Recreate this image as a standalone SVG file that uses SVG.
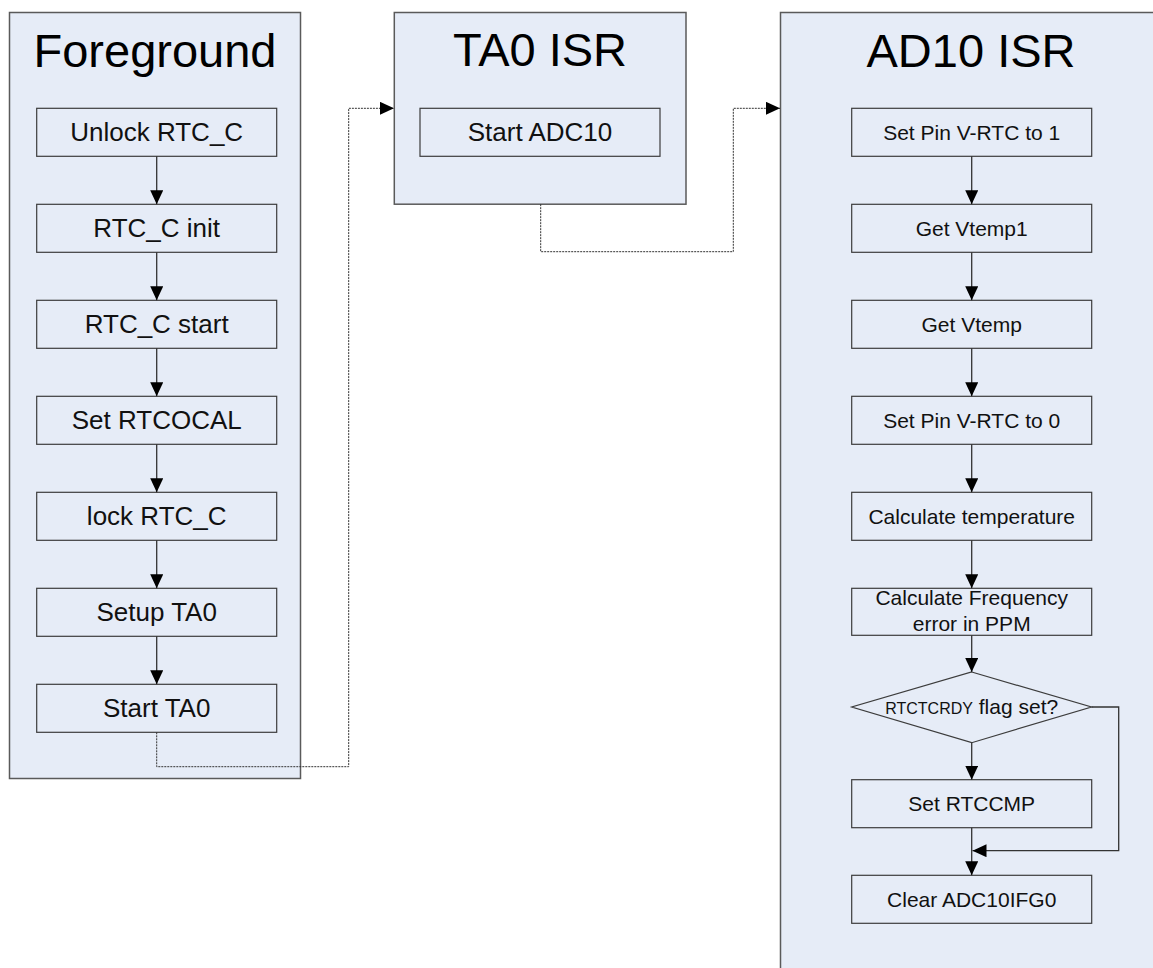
<svg xmlns="http://www.w3.org/2000/svg" width="1153" height="968" viewBox="0 0 1153 968">
<defs>
<style>
.panel{fill:#E6ECF7;stroke:#5a5a5a;stroke-width:1.5}
.box{fill:#E6ECF7;stroke:#3c3c3c;stroke-width:1.2}
.title{font-family:"Liberation Sans",Arial,sans-serif;font-size:47px;fill:#000;text-anchor:middle}
.t26{font-family:"Liberation Sans",Arial,sans-serif;font-size:26px;fill:#111;text-anchor:middle}
.t21{font-family:"Liberation Sans",Arial,sans-serif;font-size:21px;fill:#111;text-anchor:middle}
.flow{fill:none;stroke:#333;stroke-width:1.3;marker-end:url(#ah)}
.dot{fill:none;stroke:#333;stroke-width:1;stroke-dasharray:2 1;marker-end:url(#ah)}
</style>
<marker id="ah" markerUnits="userSpaceOnUse" markerWidth="15" markerHeight="14" refX="14" refY="6.5" orient="auto">
<path d="M0,0 L14,6.5 L0,13 z" fill="#000"/>
</marker>
</defs>
<rect width="1153" height="968" fill="#fff"/>

<g id="foreground">
<rect class="panel" x="9.5" y="12.5" width="291" height="766"/>
<text class="title" x="155" y="67">Foreground</text>
</g>
<g id="unlock"><rect class="box" x="36.7" y="108.3" width="240" height="48"/><text class="t26" x="156.7" y="141">Unlock RTC_C</text></g>
<g id="init"><rect class="box" x="36.7" y="204.3" width="240" height="48"/><text class="t26" x="156.7" y="237">RTC_C init</text></g>
<g id="start"><rect class="box" x="36.7" y="300.3" width="240" height="48"/><text class="t26" x="156.7" y="333">RTC_C start</text></g>
<g id="setcal"><rect class="box" x="36.7" y="396.3" width="240" height="48"/><text class="t26" x="156.7" y="429">Set RTCOCAL</text></g>
<g id="lock"><rect class="box" x="36.7" y="492.3" width="240" height="48"/><text class="t26" x="156.7" y="525">lock RTC_C</text></g>
<g id="setupta0"><rect class="box" x="36.7" y="588.3" width="240" height="48"/><text class="t26" x="156.7" y="621">Setup TA0</text></g>
<g id="startta0"><rect class="box" x="36.7" y="684.3" width="240" height="48"/><text class="t26" x="156.7" y="717">Start TA0</text></g>

<g id="ta0isr">
<rect class="panel" x="394.3" y="12.5" width="291.7" height="191.7"/>
<text class="title" x="540" y="66">TA0 ISR</text>
</g>
<g id="startadc"><rect class="box" x="420" y="108.3" width="240" height="48"/><text class="t26" x="540" y="141">Start ADC10</text></g>

<g id="ad10isr">
<rect class="panel" x="780.5" y="12.5" width="400" height="980"/>
<text class="title" x="971" y="67">AD10 ISR</text>
</g>
<g id="pin1"><rect class="box" x="851.7" y="108.3" width="240" height="48"/><text class="t21" x="971.7" y="139.5">Set Pin V-RTC to 1</text></g>
<g id="vtemp1"><rect class="box" x="851.7" y="204.3" width="240" height="48"/><text class="t21" x="971.7" y="235.5">Get Vtemp1</text></g>
<g id="vtemp"><rect class="box" x="851.7" y="300.3" width="240" height="48"/><text class="t21" x="971.7" y="331.5">Get Vtemp</text></g>
<g id="pin0"><rect class="box" x="851.7" y="396.3" width="240" height="48"/><text class="t21" x="971.7" y="427.5">Set Pin V-RTC to 0</text></g>
<g id="calctemp"><rect class="box" x="851.7" y="492.3" width="240" height="48"/><text class="t21" x="971.7" y="523.5">Calculate temperature</text></g>
<g id="calcfreq"><rect class="box" x="851.7" y="588.3" width="240" height="47"/><text class="t21" x="971.7" y="605">Calculate Frequency</text><text class="t21" x="971.7" y="631">error in PPM</text></g>
<g id="decision"><polygon class="box" points="971.7,672 1091.5,707 971.7,742.7 851.7,707"/><text class="t21" x="971.7" y="714"><tspan font-size="16px">RTCTCRDY</tspan> flag set?</text></g>
<g id="setcmp"><rect class="box" x="851.7" y="779.7" width="240" height="48"/><text class="t21" x="971.7" y="811">Set RTCCMP</text></g>
<g id="clearifg"><rect class="box" x="851.7" y="875.3" width="240" height="48"/><text class="t21" x="971.7" y="906.5">Clear ADC10IFG0</text></g>

<g id="connectors">
<path class="flow" d="M156.7,156.3 V204.3"/>
<path class="flow" d="M156.7,252.3 V300.3"/>
<path class="flow" d="M156.7,348.3 V396.3"/>
<path class="flow" d="M156.7,444.3 V492.3"/>
<path class="flow" d="M156.7,540.3 V588.3"/>
<path class="flow" d="M156.7,636.3 V684.3"/>
<path class="dot" d="M156.7,732.3 V766.7 H348.7 V108.3 H394"/>
<path class="dot" d="M540.7,204.2 V251.7 H733.3 V108.3 H780"/>
<path class="flow" d="M971.7,156.3 V204.3"/>
<path class="flow" d="M971.7,252.3 V300.3"/>
<path class="flow" d="M971.7,348.3 V396.3"/>
<path class="flow" d="M971.7,444.3 V492.3"/>
<path class="flow" d="M971.7,540.3 V588.3"/>
<path class="flow" d="M971.7,635.3 V672"/>
<path class="flow" d="M971.7,742.7 V779.7"/>
<path class="flow" d="M971.7,827.7 V875.3"/>
<path class="flow" d="M1091.5,707 H1118.7 V850.7 H972.5"/>
</g>
</svg>
